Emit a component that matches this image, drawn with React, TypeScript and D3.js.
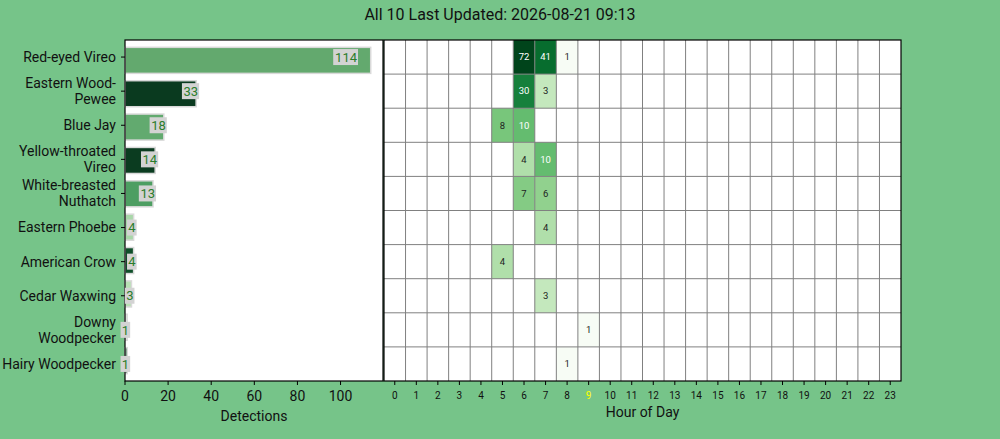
import React from "react";
import * as d3 from "d3";

// species ordered by total detections
const species = [
  "Red-eyed Vireo",
  "Eastern Wood-Pewee",
  "Blue Jay",
  "Yellow-throated Vireo",
  "White-breasted Nuthatch",
  "Eastern Phoebe",
  "American Crow",
  "Cedar Waxwing",
  "Downy Woodpecker",
  "Hairy Woodpecker",
];
const speciesLines = [
  ["Red-eyed Vireo"],
  ["Eastern Wood-", "Pewee"],
  ["Blue Jay"],
  ["Yellow-throated", "Vireo"],
  ["White-breasted", "Nuthatch"],
  ["Eastern Phoebe"],
  ["American Crow"],
  ["Cedar Waxwing"],
  ["Downy", "Woodpecker"],
  ["Hairy Woodpecker"],
];
const totals = [114, 33, 18, 14, 13, 4, 4, 3, 1, 1];
const barColors = [
  "#63a96e",
  "#0a3a1f",
  "#62aa6f",
  "#0b3c20",
  "#4d9e62",
  "#a9d7a9",
  "#0f4f2a",
  "#b8e0b4",
  "#e6f3e3",
  "#1b5e34",
];
// [species index, hour, count]
const hourly: [number, number, number][] = [
  [0, 6, 72], [0, 7, 41], [0, 8, 1],
  [1, 6, 30], [1, 7, 3],
  [2, 5, 8], [2, 6, 10],
  [3, 6, 4], [3, 7, 10],
  [4, 6, 7], [4, 7, 6],
  [5, 7, 4],
  [6, 5, 4],
  [7, 7, 3],
  [8, 9, 1],
  [9, 8, 1],
];
const hours = d3.range(24);
const currentHour = 9;
const title = "All 10 Last Updated: 2026-08-21 09:13";

const W = 1000;
const H = 439;
const top = 40;
const bottom = 381;
const barLeft = 125;
const barRight = 383;
const heatLeft = 384;
const heatRight = 901;
const font = "Roboto, 'DejaVu Sans', sans-serif";

export default function App() {
  const y = d3.scaleBand<string>().domain(species).range([top, bottom]);
  const yBar = d3.scaleBand<string>().domain(species).range([top, bottom]).padding(0.22);
  const x = d3
    .scaleLinear()
    .domain([0, d3.max(totals)! * 1.05])
    .range([barLeft, barRight]);
  const xh = d3.scaleBand<number>().domain(hours).range([heatLeft, heatRight]);
  const color = d3
    .scaleSequentialLog(d3.interpolateGreens)
    .domain([1, d3.max(hourly, (d) => d[2])!]);
  const norm = d3.scaleLog().domain(color.domain()).range([0, 1]);

  return (
    <svg
      width={W}
      height={H}
      style={{ position: "absolute", left: 0, top: 0, fontFamily: font }}
    >
      <rect width={W} height={H} fill="#76c489" />
      <text x={W / 2} y={20} textAnchor="middle" fontSize={16} fill="#111">
        {title}
      </text>

      {/* bar chart */}
      <rect x={barLeft} y={top} width={barRight - barLeft} height={bottom - top} fill="#fff" />
      {species.map((s, i) => (
        <rect
          key={s}
          x={x(0)}
          y={yBar(s)}
          width={x(totals[i]) - x(0)}
          height={yBar.bandwidth()}
          fill={barColors[i]}
          stroke="#d9d9d9"
          strokeWidth={1.5}
        />
      ))}
      <rect
        x={barLeft}
        y={top}
        width={barRight - barLeft}
        height={bottom - top}
        fill="none"
        stroke="#000"
        strokeWidth={1.2}
      />
      {species.map((s, i) => {
        const cy = y(s)! + y.bandwidth() / 2;
        const lines = speciesLines[i];
        return (
          <g key={s + "tick"}>
            <line x1={barLeft - 4} x2={barLeft} y1={cy} y2={cy} stroke="#000" />
            <text x={barLeft - 9} textAnchor="end" fontSize={14} fill="#111">
              {lines.map((l, j) => (
                <tspan
                  key={j}
                  x={barLeft - 9}
                  y={cy + (j - (lines.length - 1) / 2) * 16}
                  dy="0.35em"
                >
                  {l}
                </tspan>
              ))}
            </text>
          </g>
        );
      })}
      {species.map((s, i) => {
        const xe = Math.min(x(totals[i]) + 3, barRight - 25);
        const w = String(totals[i]).length * 7.6 + 2;
        const cy = y(s)! + y.bandwidth() / 2;
        return (
          <g key={s + "lab"}>
            <rect x={xe - w} y={cy - 8} width={w} height={16} fill="#d3d3d3" />
            <text
              x={xe - 1}
              y={cy}
              dy="0.36em"
              textAnchor="end"
              fontSize={13}
              fill="#2b7d2b"
            >
              {totals[i]}
            </text>
          </g>
        );
      })}
      {x.ticks(6).map((t) => (
        <g key={"xt" + t}>
          <line x1={x(t)} x2={x(t)} y1={bottom} y2={bottom + 4} stroke="#000" />
          <text x={x(t)} y={bottom + 15} dy="0.35em" textAnchor="middle" fontSize={14} fill="#111">
            {t}
          </text>
        </g>
      ))}
      <text x={(barLeft + barRight) / 2} y={421} textAnchor="middle" fontSize={14} fill="#111">
        Detections
      </text>

      {/* heatmap */}
      <rect x={heatLeft} y={top} width={heatRight - heatLeft} height={bottom - top} fill="#fff" />
      {hourly.map(([si, h, v]) => (
        <rect
          key={si + "-" + h}
          x={xh(h)}
          y={y(species[si])}
          width={xh.bandwidth()}
          height={y.bandwidth()}
          fill={color(v)}
        />
      ))}
      {hours.slice(1).map((h) => (
        <line key={"vl" + h} x1={xh(h)} x2={xh(h)} y1={top} y2={bottom} stroke="#808080" />
      ))}
      {species.slice(1).map((s) => (
        <line key={"hl" + s} x1={heatLeft} x2={heatRight} y1={y(s)} y2={y(s)} stroke="#808080" />
      ))}
      {hourly.map(([si, h, v]) => (
        <text
          key={"t" + si + "-" + h}
          x={xh(h)! + xh.bandwidth() / 2}
          y={y(species[si])! + y.bandwidth() / 2}
          dy="0.35em"
          textAnchor="middle"
          fontSize={9.5}
          fill={norm(v) > 0.5 ? "#fff" : "#222"}
        >
          {v}
        </text>
      ))}
      <rect
        x={heatLeft}
        y={top}
        width={heatRight - heatLeft}
        height={bottom - top}
        fill="none"
        stroke="#000"
        strokeWidth={1.2}
      />
      {hours.map((h) => {
        const cx = xh(h)! + xh.bandwidth() / 2;
        return (
          <g key={"ht" + h}>
            <line x1={cx} x2={cx} y1={bottom} y2={bottom + 4} stroke="#000" />
            <text
              x={cx}
              y={bottom + 14}
              dy="0.35em"
              textAnchor="middle"
              fontSize={10}
              fill={h === currentHour ? "#ffff00" : "#111"}
            >
              {h}
            </text>
          </g>
        );
      })}
      <text x={(heatLeft + heatRight) / 2} y={417} textAnchor="middle" fontSize={14} fill="#111">
        Hour of Day
      </text>
    </svg>
  );
}
